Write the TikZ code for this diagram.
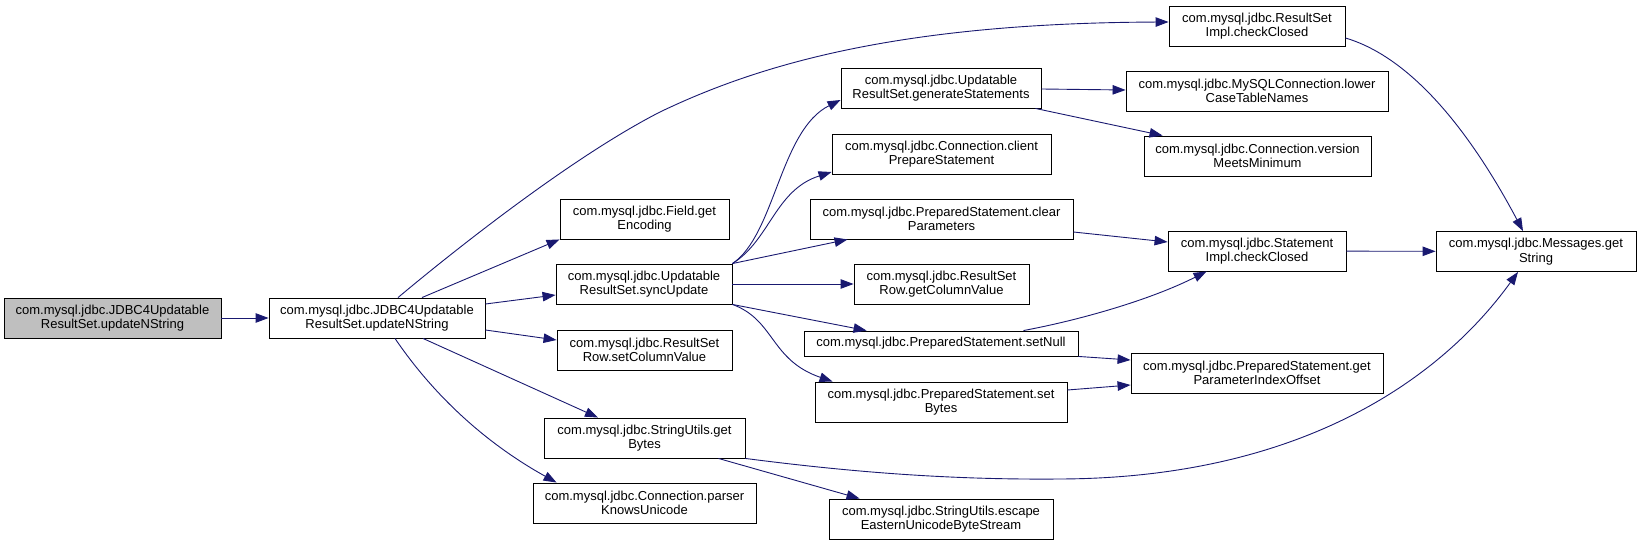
\documentclass[tikz,border=0pt]{standalone}
\usepackage{fontspec}
\setmainfont{Liberation Sans}
\usepackage{tikz}
\usetikzlibrary{arrows.meta,positioning}
\definecolor{edgeblue}{HTML}{191970}

\begin{document}
\begin{tikzpicture}[
  x=1pt,y=-1pt,
  font=\fontsize{13}{14.5}\selectfont,
  fn/.style={draw=black,line width=0.9pt,fill=white,inner sep=0pt,align=center,
             minimum height=40pt},
  root/.style={fn,fill=black!25},
  call/.style={-{Triangle[length=13pt,width=9.5pt]},draw=edgeblue,line width=0.9pt}
]
\useasboundingbox (0,0) rectangle (1641,545);

% caller and first level
\node[root,minimum width=217pt] (start) at (112.5,318) {com.mysql.jdbc.JDBC4Updatable\\ResultSet.updateNString};
\node[fn,minimum width=216pt] (upd) at (377,318) {com.mysql.jdbc.JDBC4Updatable\\ResultSet.updateNString};

\node[fn,minimum width=169pt] (getenc) at (644.5,219) {com.mysql.jdbc.Field.get\\Encoding};
\node[fn,minimum width=176pt] (sync) at (644,284) {com.mysql.jdbc.Updatable\\ResultSet.syncUpdate};
\node[fn,minimum width=175pt] (setcol) at (644.5,350) {com.mysql.jdbc.ResultSet\\Row.setColumnValue};
\node[fn,minimum width=201pt] (getbytes) at (644.5,438) {com.mysql.jdbc.StringUtils.get\\Bytes};
\node[fn,minimum width=223pt] (parser) at (644.5,503) {com.mysql.jdbc.Connection.parser\\KnowsUnicode};

% second level
\node[fn,minimum width=200pt] (genst) at (941,88) {com.mysql.jdbc.Updatable\\ResultSet.generateStatements};
\node[fn,minimum width=219pt] (client) at (941.5,154) {com.mysql.jdbc.Connection.client\\PrepareStatement};
\node[fn,minimum width=263pt] (clear) at (941.5,219) {com.mysql.jdbc.PreparedStatement.clear\\Parameters};
\node[fn,minimum width=175pt] (getcolv) at (941.5,284) {com.mysql.jdbc.ResultSet\\Row.getColumnValue};
\node[fn,minimum width=274pt,minimum height=25pt] (setnull) at (941,343.5) {com.mysql.jdbc.PreparedStatement.setNull};
\node[fn,minimum width=252pt] (setbytes) at (941,402) {com.mysql.jdbc.PreparedStatement.set\\Bytes};
\node[fn,minimum width=224pt] (escape) at (941,519) {com.mysql.jdbc.StringUtils.escape\\EasternUnicodeByteStream};

% third level
\node[fn,minimum width=176pt] (rsclosed) at (1257,26) {com.mysql.jdbc.ResultSet\\Impl.checkClosed};
\node[fn,minimum width=262pt] (lower) at (1257,91) {com.mysql.jdbc.MySQLConnection.lower\\CaseTableNames};
\node[fn,minimum width=227pt] (version) at (1257.5,156) {com.mysql.jdbc.Connection.version\\MeetsMinimum};
\node[fn,minimum width=178pt] (stclosed) at (1257,251) {com.mysql.jdbc.Statement\\Impl.checkClosed};
\node[fn,minimum width=252pt] (pio) at (1257,373) {com.mysql.jdbc.PreparedStatement.get\\ParameterIndexOffset};
\node[fn,minimum width=200pt] (msg) at (1536,251.5) {com.mysql.jdbc.Messages.get\\String};

% calls
\draw[call] (start) -- (upd);
\draw[call] ([xshift=21]upd.north) .. controls (450,254) and (570,158) .. (660,112)
  .. controls (760,64) and (900,23) .. ([yshift=4]rsclosed.west);
\draw[call] ([xshift=45]upd.north) -- (getenc.south west);
\draw[call] ([yshift=14]upd.east) -- ([yshift=-11]sync.west);
\draw[call] ([yshift=-12]upd.east) -- ([yshift=10]setcol.west);
\draw[call] ([xshift=46]upd.south) -- ([xshift=-46.5]getbytes.north);
\draw[call] ([xshift=18]upd.south) .. controls (430,390) and (480,440) .. ([xshift=24]parser.north west);

\draw[call] (sync.north east) .. controls (775,235) and (780,130) .. ([yshift=-12]genst.west);
\draw[call] (sync.north east) .. controls (770,240) and (775,190) .. ([yshift=-18]client.west);
\draw[call] (sync.north east) -- ([xshift=38]clear.south west);
\draw[call] (sync) -- (getcolv);
\draw[call] (sync.south east) -- ([xshift=63]setnull.north west);
\draw[call] (sync.south east) .. controls (775,320) and (770,360) .. ([xshift=18]setbytes.north west);

\draw[call] ([yshift=-1]genst.east) -- ([yshift=1]lower.west);
\draw[call] ([xshift=-6]genst.south east) -- ([xshift=19]version.north west);
\draw[call] ([yshift=-13]clear.east) -- ([yshift=9]stclosed.west);
\draw[call] ([xshift=-55]setnull.north east) .. controls (1080,320) and (1150,300) .. ([xshift=39]stclosed.south west);
\draw[call] (setnull.south east) -- ([yshift=13]pio.west);
\draw[call] ([yshift=12]setbytes.east) -- ([yshift=-12]pio.west);

\draw[call] (stclosed) -- (msg);
\draw[call] ([yshift=-12]rsclosed.east) .. controls (1420,60) and (1480,150) .. ([xshift=-13]msg.north);
\draw[call] (getbytes.south east) .. controls (850,472) and (950,480) .. (1060,479)
  .. controls (1300,478) and (1440,380) .. ([xshift=-18]msg.south);
\draw[call] ([xshift=-27]getbytes.south east) -- ([xshift=31]escape.north west);
\end{tikzpicture}
\end{document}
